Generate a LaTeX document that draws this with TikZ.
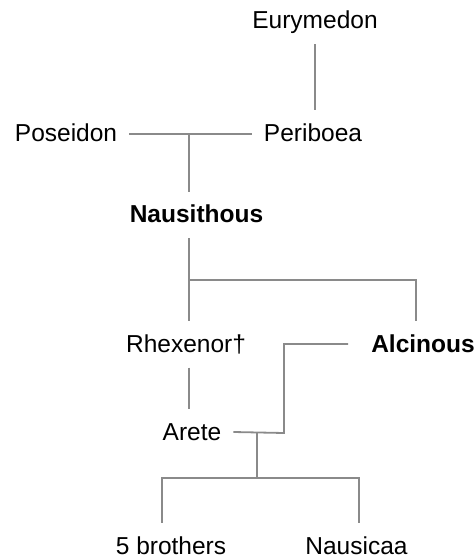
\documentclass[tikz,border=0pt]{standalone}
\usepackage{fontspec}
\setmainfont{Liberation Sans}
\definecolor{linegray}{RGB}{138,138,138}
\begin{document}
\begin{tikzpicture}[x=1bp,y=-1bp,
  person/.style={anchor=base, inner xsep=12bp, inner ysep=10bp,
    text height=21bp, text depth=5bp,
    font=\fontsize{24.5bp}{29bp}\selectfont},
  key/.style={person, font=\fontsize{24.5bp}{29bp}\selectfont\bfseries},
  link/.style={draw=linegray, line width=1.8bp}]
\useasboundingbox (0,0) rectangle (475,559);

% people
\node[person] (eury)  at (315,29)    {Eurymedon};
\node[person] (pos)   at (66,141.7)  {Poseidon};
\node[person] (peri)  at (313,141.7) {Periboea};
\node[key]    (naus)  at (196.5,223) {Nausithous};
\node[person] (rhex)  at (186,352.5) {Rhexenor†};
\node[key]    (alc)   at (423,352)   {Alcinous};
\node[person] (arete) at (192,440)   {Arete};
\node[person] (bros)  at (171,554)   {5 brothers};
\node[person] (nausi) at (356.5,554) {Nausicaa};

% junction points
\coordinate (m1)   at (189,134);
\coordinate (j2)   at (189,280);
\coordinate (j3)   at (416,280);
\coordinate (bend) at (284,433);
\coordinate (m2)   at (257,433);
\coordinate (j5)   at (257,478);
\coordinate (kl)   at (162,478);
\coordinate (kr)   at (359,478);

% Eurymedon -> Periboea
\draw[link] (eury.south) -- (eury.south |- peri.north);
% Poseidon + Periboea -> Nausithous
\draw[link] (pos.east) -- (peri.west);
\draw[link] (m1) -- (m1 |- naus.north);
% Nausithous -> Rhexenor, Alcinous
\draw[link] (m1 |- naus.south) -- (j2) -- (j3) -- (j3 |- alc.north);
\draw[link] (j2) -- (j2 |- rhex.north);
% Rhexenor -> Arete
\draw[link] (j2 |- rhex.south) -- (j2 |- arete.north);
% Alcinous + Arete
\draw[link] ([xshift=-11bp]alc.west) -| (bend) -- (arete.east);
% children
\draw[link] (m2) -- (j5);
\draw[link] (kl |- bros.north) -- (kl) -- (kr) -- (kr |- nausi.north);
\end{tikzpicture}
\end{document}
